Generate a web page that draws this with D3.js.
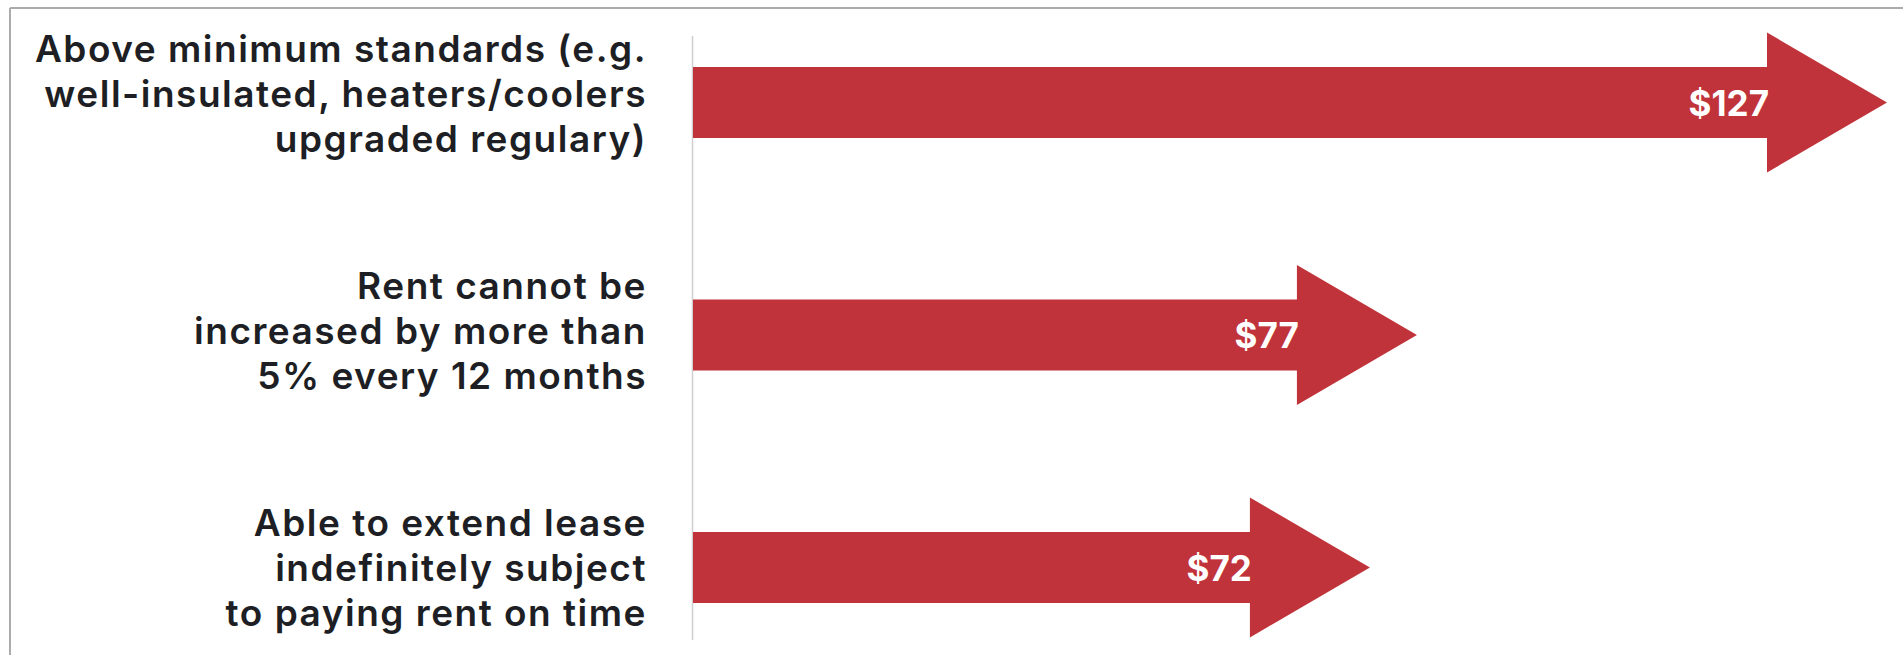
<!DOCTYPE html>
<html>
<head>
<meta charset="utf-8">
<script src="https://cdn.jsdelivr.net/npm/d3@7"></script>
<style>
  html, body { margin: 0; padding: 0; background: #fff; }
  svg { display: block; }
</style>
</head>
<body>
<svg id="chart" width="1903" height="655"></svg>
<script>
// ---- data ----
const categories = [
  ["Above minimum standards (e.g.", "well-insulated, heaters/coolers", "upgraded regulary)"],
  ["Rent cannot be", "increased by more than", "5% every 12 months"],
  ["Able to extend lease", "indefinitely subject", "to paying rent on time"]
];
const values = [127, 77, 72];
const valueLabels = ["$127", "$77", "$72"];

// ---- layout ----
const W = 1903, H = 655;
const svg = d3.select("#chart");
const idx = d3.range(values.length);

const x = d3.scaleLinear().domain([0, 127]).range([693, 1887]);
const y = d3.scalePoint().domain(idx).range([102.5, 567.5]);
const yLabel = d3.scalePoint().domain(idx).range([107, 581]);

const headLen = 120, headHalf = 70, shaftHalf = 35.5;
const red = "#c1333a";

// frame
svg.append("line").attr("x1", 10).attr("x2", W).attr("y1", 8).attr("y2", 8)
  .attr("stroke", "#ababab").attr("stroke-width", 2);
svg.append("line").attr("x1", 10).attr("x2", 10).attr("y1", 8).attr("y2", H)
  .attr("stroke", "#ababab").attr("stroke-width", 2);

// axis line
svg.append("line").attr("x1", x(0) - 0.5).attr("x2", x(0) - 0.5).attr("y1", 36).attr("y2", 640)
  .attr("stroke", "#cfcfcf").attr("stroke-width", 1.5);

// arrows
svg.append("g").selectAll("path").data(idx).join("path")
  .attr("fill", red)
  .attr("d", i => {
    const x0 = x(0), xt = x(values[i]), xb = xt - headLen, cy = y(i);
    return `M${x0},${cy - shaftHalf}L${xb},${cy - shaftHalf}L${xb},${cy - headHalf}L${xt},${cy}` +
           `L${xb},${cy + headHalf}L${xb},${cy + shaftHalf}L${x0},${cy + shaftHalf}Z`;
  });

// value labels
svg.append("g").selectAll("text").data(idx).join("text")
  .attr("x", i => x(values[i]) - headLen + 2)
  .attr("y", i => y(i) + 13)
  .attr("text-anchor", "end")
  .attr("fill", "#ffffff")
  .attr("font-family", "Inter, 'Open Sans', sans-serif")
  .attr("font-weight", 700)
  .attr("font-size", 35)
  .text(i => valueLabels[i]);

// category labels
const lab = svg.append("g").selectAll("text").data(idx).join("text")
  .attr("text-anchor", "end")
  .attr("fill", "#1e1f24")
  .attr("font-family", "Inter, Roboto, sans-serif")
  .attr("font-weight", 600)
  .attr("font-size", 37)
  .attr("letter-spacing", 1.5);
lab.selectAll("tspan").data(i => categories[i].map((t, k) => ({ t, k, i }))).join("tspan")
  .attr("x", 647)
  .attr("y", d => yLabel(d.i) + (d.k - 1) * 45)
  .text(d => d.t);
</script>
</body>
</html>
